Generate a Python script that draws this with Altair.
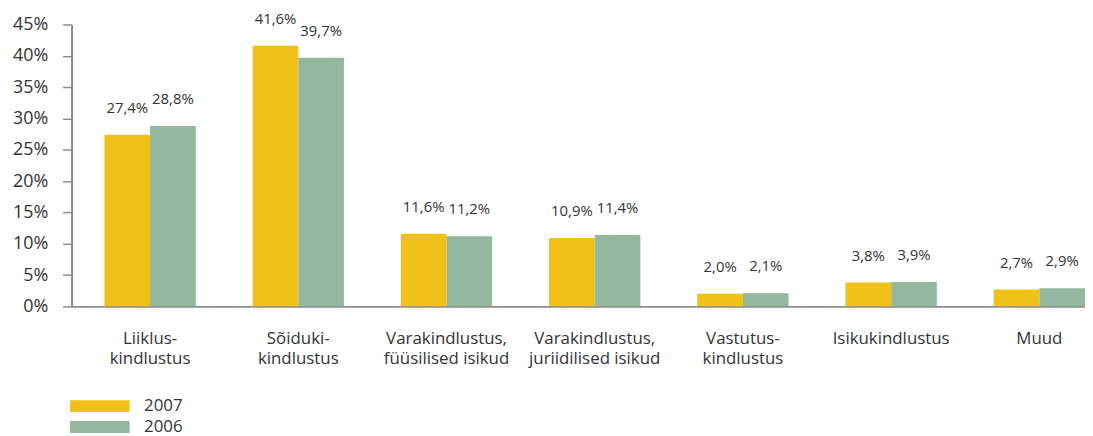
import altair as alt
import pandas as pd

categories = [
    "Liiklus-|kindlustus",
    "Sõiduki-|kindlustus",
    "Varakindlustus,|füüsilised isikud",
    "Varakindlustus,|juriidilised isikud",
    "Vastutus-|kindlustus",
    "Isikukindlustus",
    "Muud",
]
years = ["2007", "2006"]
values_2007 = [27.4, 41.6, 11.6, 10.9, 2.0, 3.8, 2.7]
values_2006 = [28.8, 39.7, 11.2, 11.4, 2.1, 3.9, 2.9]
y_ticks = [0, 5, 10, 15, 20, 25, 30, 35, 40, 45]
colors = ["#F0C219", "#93B89D"]

rows = []
for yr, vals in zip(years, [values_2007, values_2006]):
    for c, v in zip(categories, vals):
        rows.append({"cat": c, "year": yr, "value": v,
                     "label": f"{v:.1f}".replace(".", ",") + "%"})
df = pd.DataFrame(rows)

FONT = "Open Sans"
TXT = "#333333"
GRAY = "#8c8c8c"

base = alt.Chart(df).encode(
    x=alt.X("cat:N", sort=categories,
            scale=alt.Scale(paddingInner=0.384, paddingOuter=0.111, align=1),
            axis=alt.Axis(title=None, labelAngle=0, ticks=False,
                          labelExpr="split(datum.label, '|')",
                          labelFontSize=17, labelLineHeight=21, labelPadding=24,
                          labelColor=TXT, labelFont=FONT,
                          domainColor=GRAY, domainWidth=2)),
    xOffset=alt.XOffset("year:N", sort=years,
                        scale=alt.Scale(paddingInner=0, paddingOuter=0)),
    y=alt.Y("value:Q", scale=alt.Scale(domain=[0, 45], nice=False),
            axis=alt.Axis(title=None, grid=False, values=y_ticks,
                          labelExpr="datum.value + '%'",
                          tickSize=9, tickColor=GRAY, tickWidth=1.5,
                          domainColor=GRAY, domainWidth=2,
                          labelPadding=15, labelFontSize=18, labelColor=TXT,
                          labelFont=FONT)),
)

bars = base.mark_bar().encode(
    color=alt.Color("year:N", sort=years,
                    scale=alt.Scale(domain=years, range=colors),
                    legend=alt.Legend(title=None, orient="none", legendX=20, legendY=376,
                                      symbolType="M-5,-1L5,-1L5,1L-5,1Z",
                                      symbolSize=144, symbolStrokeWidth=0,
                                      symbolOpacity=1,
                                      labelOffset=36, labelFontSize=17, labelColor=TXT,
                                      labelFont=FONT, rowPadding=3, padding=0))
)

text = base.mark_text(baseline="bottom", dy=-19, fontSize=15, color=TXT, font=FONT).encode(
    text="label:N"
)

chart = alt.layer(bars, text).properties(
    width=1021, height=284,
    padding={"left": 64, "top": 15, "right": 0, "bottom": 129},
    autosize=alt.AutoSizeParams(type="none"),
).configure_view(stroke=None)

chart.save("out.html", embed_options={"renderer": "svg", "actions": False})
